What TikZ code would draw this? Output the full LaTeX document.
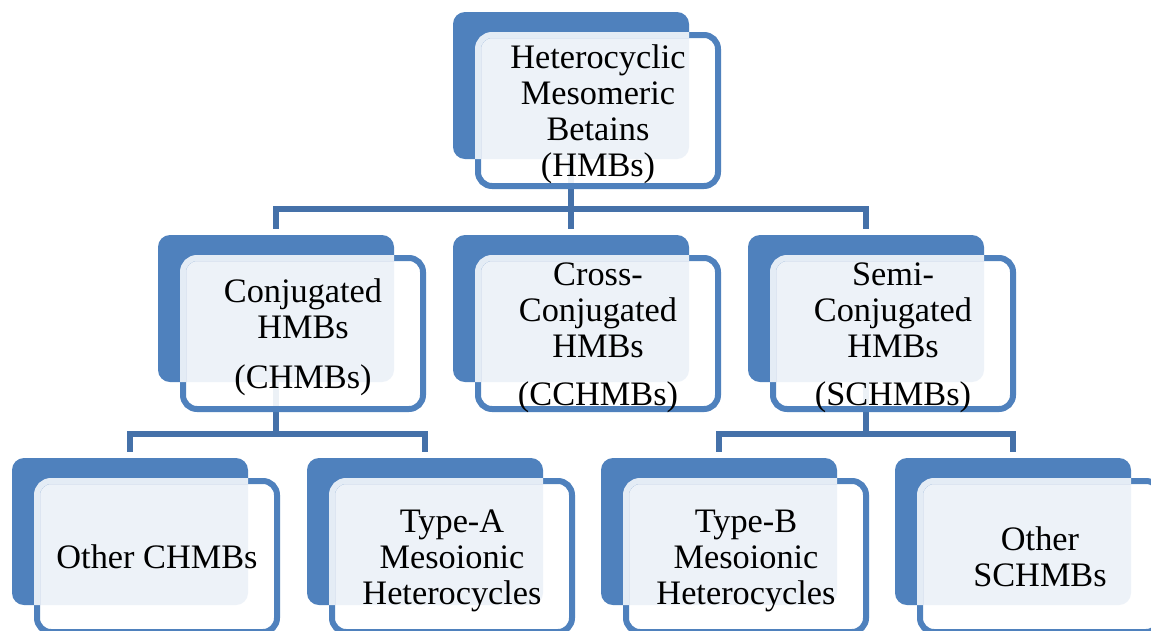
\documentclass[tikz,border=0pt]{standalone}
\usepackage{fontspec}
\setmainfont{Liberation Serif}
\usetikzlibrary{calc}
\definecolor{bk}{HTML}{4F81BD}
\definecolor{bd}{HTML}{4F81BD}
\definecolor{cn}{HTML}{4571A9}
\begin{document}
\begin{tikzpicture}[x=1pt,y=-1pt,
  backbox/.style={fill=bk, rounded corners=12pt, minimum width=236pt, minimum height=147pt, inner sep=0pt, outer sep=0pt, anchor=north west},
  frontbox/.style={draw=bd, line width=6pt, fill=white, fill opacity=0.9, rounded corners=14pt, minimum width=240pt, minimum height=151pt, inner sep=0pt, outer sep=0pt, anchor=north west},
  lbl/.style={align=center, inner sep=0pt, font=\fontsize{34.3}{36}\selectfont},
  lbld/.style={lbl, yshift=-4pt},
  conn/.style={draw=cn, line width=6pt, line join=miter}]
\useasboundingbox (0,0) rectangle (1151,630);
\fill[white] (0,0) rectangle (1151,630);
\clip (0,0) rectangle (1151,630);
% back boxes
\node[backbox] (tb) at (453,12) {};
\node[backbox] (b1) at (158,235) {};
\node[backbox] (b2) at (453,235) {};
\node[backbox] (b3) at (748,235) {};
\node[backbox] (c1) at (12,458) {};
\node[backbox] (c2) at (307,458) {};
\node[backbox] (c3) at (601,458) {};
\node[backbox] (c4) at (895,458) {};
% connectors
\coordinate (j1) at (571,208.5);
\coordinate (j2) at (276,433.5);
\coordinate (j3) at (866,433.5);
\draw[conn] (tb.south) -- (j1);
\draw[conn] ([yshift=6.5pt]b1.north) |- (j1) -| ([yshift=6.5pt]b3.north);
\draw[conn] (j1) -- ([yshift=6.5pt]b2.north);
\draw[conn] (b1.south) -- (j2);
\draw[conn] ([yshift=6.5pt]c1.north) |- (j2) -| ([yshift=6.5pt]c2.north);
\draw[conn] (b3.south) -- (j3);
\draw[conn] ([yshift=6.5pt]c3.north) |- (j3) -| ([yshift=6.5pt]c4.north);
% front boxes
\node[frontbox] (tf) at (478,35) {};
\node[frontbox] (f1) at (183,258) {};
\node[frontbox] (f2) at (478,258) {};
\node[frontbox] (f3) at (773,258) {};
\node[frontbox] (g1) at (37,481) {};
\node[frontbox] (g2) at (332,481) {};
\node[frontbox] (g3) at (626,481) {};
\node[frontbox] (g4) at (920,481) {};
% light border where front box overlaps back box
\foreach \b/\f in {tb/tf,b1/f1,b2/f2,b3/f3,c1/g1,c2/g2,c3/g3,c4/g4}{
  \begin{scope}
    \clip[rounded corners=12pt] (\b.north west) rectangle (\b.south east);
    \draw[white, opacity=0.85, line width=6pt, rounded corners=14pt] (\f.north west) rectangle (\f.south east);
  \end{scope}
}
% labels
\node[lbld] (ttx) at (tf.center) {Heterocyclic\\Mesomeric\\Betains\\(HMBs)};
\node[lbld] (t1) at (f1.center) {Conjugated\\HMBs\\[14pt](CHMBs)};
\node[lbld] (t2) at (f2.center) {Cross-\\Conjugated\\HMBs\\[12pt](CCHMBs)};
\node[lbld] (t3) at (f3.center) {Semi-\\Conjugated\\HMBs\\[12pt](SCHMBs)};
\node[lbl] (u1) at (g1.center) {Other CHMBs};
\node[lbld] (u2) at (g2.center) {Type-A\\Mesoionic\\Heterocycles};
\node[lbld] (u3) at (g3.center) {Type-B\\Mesoionic\\Heterocycles};
\node[lbl] (u4) at (g4.center) {Other\\SCHMBs};
\end{tikzpicture}
\end{document}
